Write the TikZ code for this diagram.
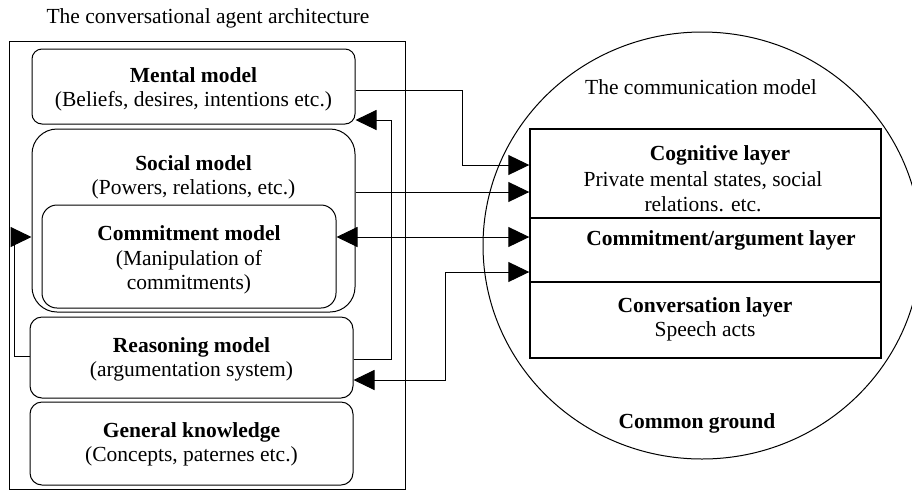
\documentclass[tikz,border=0pt]{standalone}
\usepackage{fontspec}
\setmainfont{Liberation Serif}
\usetikzlibrary{arrows.meta,calc,shapes.geometric}
\begin{document}
\begin{tikzpicture}[x=1pt,y=-1pt,
  box/.style={draw,line width=1pt,inner sep=0pt},
  layer/.style={draw,line width=1.4pt,inner sep=0pt,minimum width=351pt},
  txt/.style={align=center,inner sep=0pt,font=\fontsize{21.5}{24.5}\selectfont},
  conn/.style={line width=1pt},
  tip/.style={-{Triangle[length=21pt,width=20pt]}},
  tips/.style={{Triangle[length=21pt,width=20pt]}-{Triangle[length=21pt,width=20pt]}}]
\useasboundingbox (0,0) rectangle (912,491);
\clip (0,0) rectangle (912,491);
% left architecture
\node[txt] (title) at (208,18) {The conversational agent architecture};
\node[box,minimum width=396pt,minimum height=447.5pt] (outer) at (207.5,265.25) {};
\node[box,rounded corners=10pt,minimum width=323pt,minimum height=75pt] (mental) at (193.5,86.5) {};
\node[txt] (mentaltxt) at (193.5,89.5) {\textbf{Mental model}\\(Beliefs, desires, intentions etc.)};
\node[box,rounded corners=25pt,minimum width=323pt,minimum height=183pt] (social) at (193.5,220.5) {};
\node[txt] (socialtxt) at (193.5,177.5) {\textbf{Social model}\\(Powers, relations, etc.)};
\node[box,rounded corners=15pt,minimum width=294pt,minimum height=103pt] (commit) at (189,256.5) {};
\node[txt] (committxt) at (189,260) {\textbf{Commitment model}\\(Manipulation of\\commitments)};
\node[box,rounded corners=12pt,minimum width=323pt,minimum height=81pt] (reason) at (191.5,357.5) {};
\node[txt] (reasontxt) at (191.5,359.5) {\textbf{Reasoning model}\\(argumentation system)};
\node[box,rounded corners=12pt,minimum width=323pt,minimum height=83pt] (general) at (191.5,443.5) {};
\node[txt] (generaltxt) at (191.5,444.5) {\textbf{General knowledge}\\(Concepts, paternes etc.)};
% communication model
\node[draw,line width=1pt,ellipse,minimum width=438pt,minimum height=427pt,inner sep=0pt] (circ) at (702,245.5) {};
\node[txt] (commtitle) at (701,87.5) {The communication model};
\node[layer,minimum height=89pt] (cog) at (705.5,173.5) {};
\node[layer,minimum height=64pt] (cal) at (705.5,250) {};
\node[layer,minimum height=76pt] (conv) at (705.5,320) {};
\node[txt] (cogtxt) at (720,155.5) {\textbf{Cognitive layer}};
\node[txt] (cogtxt2) at (703,191.5) {Private mental states, social\\relations. etc.};
\node[txt] (caltxt) at (721,240) {\textbf{Commitment/argument layer}};
\node[txt] (convtxt) at (705,319.5) {\textbf{Conversation layer}\\Speech acts};
\node[txt] (cg) at (697,423.5) {\textbf{Common ground}};
% connectors
\draw[conn,tip] (mental.east |- 0,90) -| (462,165) -- (cog.west |- 0,165);
\draw[conn,tip] (social.east |- 0,192) -- (cog.west |- 0,192);
\draw[conn,tips] (commit.east |- 0,237) -- (cal.west |- 0,237);
\draw[conn,tips] (cal.west |- 0,272) -| (445,380) -- (reason.east |- 0,380);
\draw[conn,tip] (reason.east |- 0,359) -| (391,120) -- (mental.east |- 0,120);
\draw[conn,tip] (reason.west |- 0,356) -| (14,237) -- (social.west |- 0,237);
\end{tikzpicture}
\end{document}
